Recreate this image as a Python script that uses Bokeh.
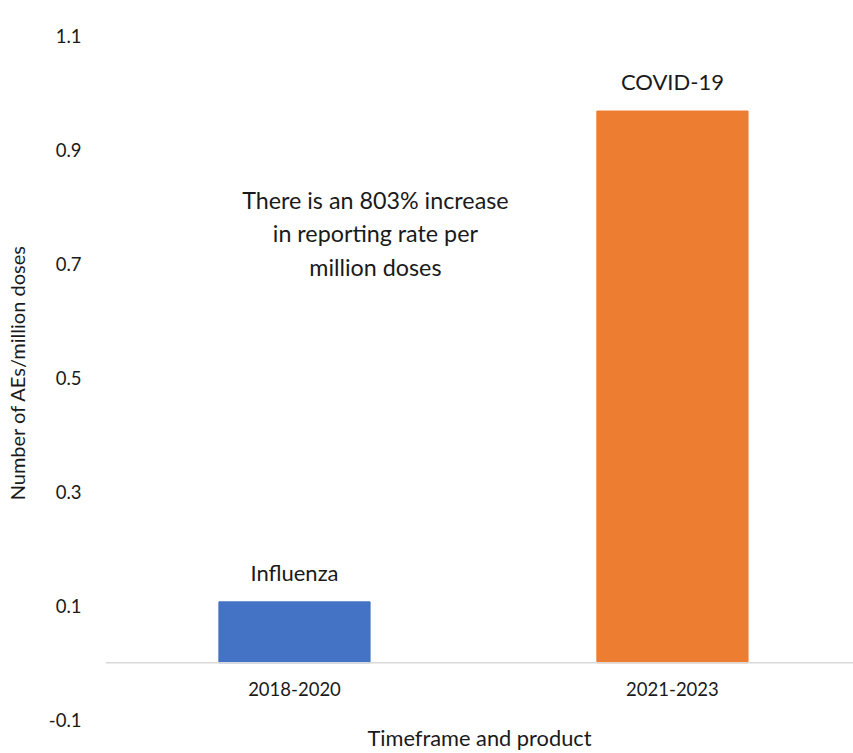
from bokeh.plotting import figure
from bokeh.models import (Range1d, FixedTicker, PrintfTickFormatter, Span,
                          ColumnDataSource, LabelSet, Label)
from bokeh.core.properties import value
from bokeh.embed import file_html
from bokeh.resources import INLINE

# ---- data ----
categories = ["2018-2020", "2021-2023"]
products = ["Influenza", "COVID-19"]
rates = [0.107, 0.969]
bar_colors = ["#4472C4", "#ED7D31"]
y_ticks = [-0.1, 0.1, 0.3, 0.5, 0.7, 0.9, 1.1]
note_lines = ["There is an 803% increase", "in reporting rate per", "million doses"]
x_title = "Timeframe and product"
y_title = "Number of AEs/million doses"

FONT = "Lato"
TXT = "#1a1a1a"

xs = list(range(len(categories)))
src = ColumnDataSource(dict(x=xs, top=rates, color=bar_colors, label=products))

p = figure(width=853, height=753, output_backend="svg", toolbar_location=None,
           x_range=Range1d(-0.5, 1.479), y_range=Range1d(-0.1119, 1.1315),
           min_border_left=105, min_border_right=0, min_border_top=18,
           min_border_bottom=25)
p.outline_line_color = None
p.grid.visible = False
p.background_fill_color = "white"
p.border_fill_color = "white"

p.vbar(x="x", top="top", bottom=0, width=0.40, color="color", source=src)

p.add_layout(Span(location=0, dimension="width", line_color="#D9D9D9", line_width=1.5))

labels = LabelSet(x="x", y="top", text="label", source=src, text_align="center",
                  text_baseline="bottom", y_offset=16, text_font=value(FONT),
                  text_font_size="22px", text_color=TXT)
p.add_layout(labels)

note = Label(x=0.214, y=0.754, text="\n".join(note_lines), text_align="center",
             text_baseline="middle", text_font=FONT, text_font_size="23.3px",
             text_color=TXT, text_line_height=1.21)
p.add_layout(note)

# y axis
ya = p.yaxis[0]
ya.ticker = FixedTicker(ticks=y_ticks)
ya.formatter = PrintfTickFormatter(format="%.1f")
ya.axis_line_color = None
ya.major_tick_line_color = None
ya.minor_tick_line_color = None
ya.major_label_text_font = FONT
ya.major_label_text_font_size = "18.5px"
ya.major_label_text_color = TXT
ya.major_label_standoff = 18
ya.axis_label = y_title
ya.axis_label_text_font = FONT
ya.axis_label_text_font_size = "20px"
ya.axis_label_text_font_style = "normal"
ya.axis_label_text_color = TXT
ya.axis_label_standoff = 17

# x axis
xa = p.xaxis[0]
xa.ticker = FixedTicker(ticks=xs)
xa.major_label_overrides = {i: c for i, c in zip(xs, categories)}
xa.axis_line_color = None
xa.major_tick_line_color = None
xa.minor_tick_line_color = None
xa.major_label_text_font = FONT
xa.major_label_text_font_size = "18.5px"
xa.major_label_text_color = TXT
xa.major_label_standoff = -51
xa.axis_label = x_title
xa.axis_label_text_font = FONT
xa.axis_label_text_font_size = "21.8px"
xa.axis_label_text_font_style = "normal"
xa.axis_label_text_color = TXT
xa.axis_label_standoff = 25

open("out.html", "w").write(file_html(p, INLINE))
